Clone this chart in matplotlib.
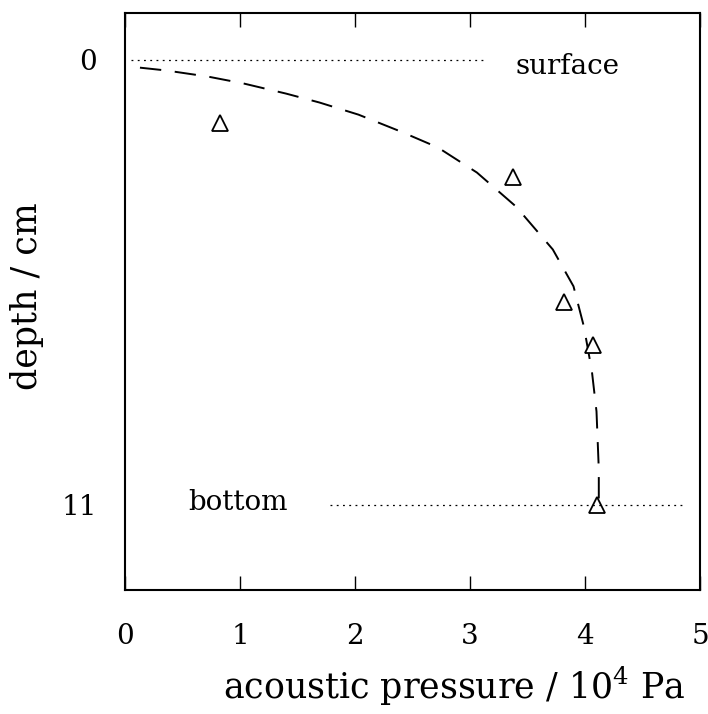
import numpy as np
import matplotlib
matplotlib.use("Agg")
from matplotlib import pyplot as plt

# measured points (triangles)
pressure = [0.83, 3.37, 3.82, 4.07, 4.10]
depth = [1.56, 2.89, 5.98, 7.04, 11.0]

# dashed fit curve
curve_p = [0.13, 0.36, 0.72, 1.03, 1.40, 1.69, 2.03, 2.40, 2.72, 3.06,
           3.40, 3.72, 3.90, 3.99, 4.06, 4.10, 4.12, 4.12]
curve_d = [0.20, 0.27, 0.42, 0.59, 0.84, 1.06, 1.36, 1.78, 2.17, 2.79,
           3.63, 4.69, 5.60, 6.59, 7.70, 8.69, 10.12, 10.9]

surface_x = [0.05, 3.11]
bottom_x = [1.78, 4.88]
surface_d = 0
bottom_d = 11

plt.rcParams['font.family'] = ['DejaVu Serif']
plt.rcParams['mathtext.fontset'] = 'dejavuserif'

fig = plt.figure(figsize=(7.08, 7.14), dpi=100)
ax = fig.add_axes([125/708, 1 - 590/714, 575/708, 577/714])

ax.plot(curve_p, curve_d, color='black', lw=1.4, dashes=(11, 7))
ax.plot(pressure, depth, linestyle='none', marker='^', markersize=11,
        markerfacecolor='white', markeredgecolor='black', markeredgewidth=1.3)
ax.plot(surface_x, [surface_d]*2, color='black', lw=0.9, dashes=(1.5, 3.5))
ax.plot(bottom_x, [bottom_d]*2, color='black', lw=0.9, dashes=(1.5, 3.5))

ax.text(3.85, 0.17, "surface", fontsize=20, ha='center', va='center')
ax.text(0.98, 10.94, "bottom", fontsize=20, ha='center', va='center')

ax.set_xlim(0, 5)
ax.set_ylim(13.1, -1.15)
ax.set_xticks([0, 1, 2, 3, 4, 5])
ax.set_yticks([0, 11])
ax.tick_params(axis='x', direction='in', top=True, length=10, width=1,
               labelsize=20, pad=24)
ax.tick_params(axis='y', length=0, labelsize=20, pad=20)
for s in ax.spines.values():
    s.set_linewidth(1.5)

ax.set_xlabel(r"acoustic pressure / 10$^4$ Pa", fontsize=25)
ax.xaxis.set_label_coords((454 - 125) / 575, -0.13)
ax.set_ylabel("depth / cm", fontsize=25)
ax.yaxis.set_label_coords(-0.14, 0.51)

fig.savefig("out.png", dpi=100)
